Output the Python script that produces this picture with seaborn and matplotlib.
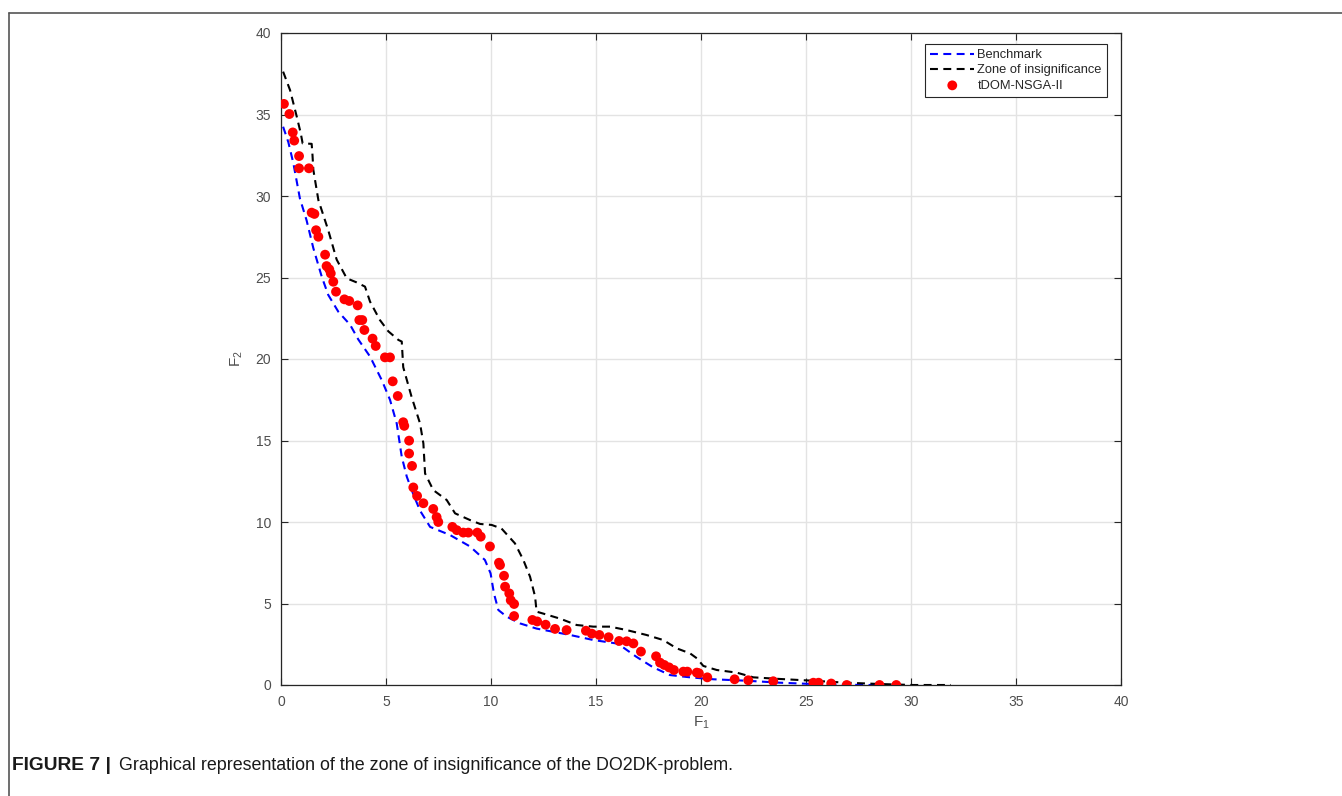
import matplotlib
matplotlib.use("Agg")
import matplotlib.pyplot as plt
from matplotlib.lines import Line2D
import seaborn as sns
import pandas as pd

# ---------------- data ----------------
bench_f1 = [0.10, 0.35, 0.59, 0.90, 1.22, 1.54, 1.94, 2.25, 2.73, 3.29,
            3.68, 4.24, 4.80, 5.19, 5.51, 5.75, 5.99, 6.30, 6.62, 7.10,
            8.05, 9.00, 9.71, 9.98, 10.14, 10.35, 10.75, 11.38, 12.17, 13.76,
            14.87, 15.97, 16.30, 16.90, 17.70, 18.52, 19.48, 20.60, 22.20, 23.76,
            25.35, 27.70, 29.24]
bench_f2 = [34.25, 33.3, 32.0, 29.85, 28.5, 26.8, 25.05, 23.93, 22.9, 22.1,
            21.2, 20.15, 18.7, 17.5, 16.05, 14.0, 12.78, 11.7, 10.7, 9.7,
            9.2, 8.5, 7.67, 6.85, 5.62, 4.6, 4.19, 3.78, 3.46, 3.07,
            2.76, 2.55, 2.3, 1.75, 1.1, 0.61, 0.47, 0.35, 0.26, 0.14,
            0.06, 0.0, 0.0]

zone_f1 = [0.10, 0.43, 0.75, 0.94, 1.03, 1.46, 1.50, 1.54, 1.78, 2.25,
           2.65, 3.13, 3.60, 4.00, 4.24, 4.71, 5.11, 5.59, 5.75, 5.82,
           6.22, 6.62, 6.78, 6.86, 7.25, 7.89, 8.29, 9.00, 9.48, 10.03,
           10.50, 11.14, 11.54, 11.86, 12.10, 12.17, 12.49, 13.29, 14.08, 14.87,
           15.67, 16.46, 17.40, 18.20, 18.84, 19.48, 19.80, 20.11, 20.75, 21.70,
           22.49, 23.76, 25.35, 26.94, 28.52, 30.10, 31.90]
zone_f2 = [37.63, 36.5, 34.87, 33.85, 33.23, 33.2, 32.5, 31.6, 29.75, 27.9,
           26.1, 24.95, 24.7, 24.44, 23.52, 22.39, 21.7, 21.17, 21.07, 19.5,
           17.67, 16.05, 14.82, 12.98, 11.96, 11.35, 10.53, 10.12, 9.88, 9.82,
           9.6, 8.69, 7.67, 6.64, 5.42, 4.5, 4.38, 4.07, 3.68, 3.58,
           3.58, 3.37, 3.07, 2.76, 2.25, 1.94, 1.64, 1.17, 0.92, 0.76,
           0.47, 0.37, 0.26, 0.14, 0.06, 0.0, 0.0]

tdom_f1 = [0.14, 0.40, 0.56, 0.63, 0.86, 0.86, 1.33, 1.46, 1.59, 1.67,
           1.78, 2.10, 2.17, 2.30, 2.37, 2.49, 2.62, 3.02, 3.25, 3.65,
           3.73, 3.87, 3.97, 4.36, 4.51, 4.95, 5.19, 5.32, 5.56, 5.82,
           5.87, 6.10, 6.10, 6.24, 6.30, 6.48, 6.78, 7.25, 7.41, 7.49,
           8.16, 8.37, 8.68, 8.92, 9.35, 9.51, 9.95, 10.38, 10.43, 10.62,
           10.67, 10.87, 10.94, 11.10, 11.10, 11.97, 12.20, 12.60, 13.05, 13.60,
           14.52, 14.80, 15.16, 15.60, 16.10, 16.46, 16.78, 17.14, 17.86, 18.05,
           18.25, 18.48, 18.71, 19.16, 19.35, 19.80, 19.90, 20.30, 21.60, 22.25,
           23.44, 25.35, 25.60, 26.20, 26.94, 28.50, 29.30]
tdom_f2 = [35.65, 35.03, 33.9, 33.4, 32.45, 31.7, 31.7, 28.98, 28.9, 27.9,
           27.5, 26.4, 25.7, 25.5, 25.25, 24.74, 24.13, 23.66, 23.56, 23.29,
           22.39, 22.39, 21.78, 21.25, 20.8, 20.1, 20.1, 18.63, 17.73, 16.12,
           15.9, 14.99, 14.2, 13.44, 12.12, 11.6, 11.15, 10.8, 10.3, 10.0,
           9.7, 9.5, 9.35, 9.35, 9.35, 9.1, 8.5, 7.5, 7.36, 6.7,
           6.03, 5.62, 5.2, 4.97, 4.23, 3.99, 3.9, 3.7, 3.44, 3.37,
           3.33, 3.15, 3.07, 2.93, 2.7, 2.68, 2.55, 2.05, 1.76, 1.37,
           1.23, 1.08, 0.92, 0.82, 0.82, 0.76, 0.72, 0.47, 0.35, 0.29,
           0.23, 0.14, 0.14, 0.09, 0.0, 0.0, 0.0]

x_ticks = [0, 5, 10, 15, 20, 25, 30, 35, 40]
y_ticks = [0, 5, 10, 15, 20, 25, 30, 35, 40]

caption_bold = "FIGURE 7 |"
caption_text = "Graphical representation of the zone of insignificance of the DO2DK-problem."

# ---------------- style ----------------
sns.set_theme(style="white")
plt.rcParams['font.family'] = ['Liberation Sans', 'DejaVu Sans']
plt.rcParams['mathtext.default'] = 'regular'

fig = plt.figure(figsize=(13.42, 7.96), dpi=100)
ax = fig.add_axes([281 / 1342, 1 - 685 / 796, (1121 - 281) / 1342, (685 - 33) / 796])

bench_df = pd.DataFrame({"F1": bench_f1, "F2": bench_f2})
zone_df = pd.DataFrame({"F1": zone_f1, "F2": zone_f2})
tdom_df = pd.DataFrame({"F1": tdom_f1, "F2": tdom_f2})

dash = (0, (3.8, 2.6))
sns.lineplot(data=bench_df, x="F1", y="F2", sort=False, estimator=None, ax=ax,
             color="#0000ff", linewidth=1.5, linestyle=dash, label="Benchmark", zorder=3)
sns.lineplot(data=zone_df, x="F1", y="F2", sort=False, estimator=None, ax=ax,
             color="#000000", linewidth=1.5, linestyle=dash, label="Zone of insignificance", zorder=3)
sns.scatterplot(data=tdom_df, x="F1", y="F2", ax=ax, color="#ff0000", s=50,
                edgecolor="none", label="tDOM-NSGA-II", zorder=4)

ax.set_xlim(0, 40)
ax.set_ylim(0, 40)
ax.set_xticks(x_ticks)
ax.set_yticks(y_ticks)
ax.set_xticklabels([str(t) for t in x_ticks])
ax.set_yticklabels([str(t) for t in y_ticks])
ax.grid(True, color="#e3e3e3", linewidth=1.0)
ax.set_axisbelow(True)
for sp in ax.spines.values():
    sp.set_visible(True)
    sp.set_color("#262626")
    sp.set_linewidth(0.9)
ax.tick_params(axis="both", direction="in", length=5, width=0.8, color="#262626",
               labelsize=10, labelcolor="#4d4d4d", pad=7, top=True, right=True,
               bottom=True, left=True)
ax.set_xlabel("F$_1$", fontsize=11, color="#4d4d4d", labelpad=4)
ax.set_ylabel("F$_2$", fontsize=11, color="#4d4d4d", labelpad=8)

leg = ax.legend(loc="upper right", bbox_to_anchor=(1 - 14 / 840, 1 - 11 / 652), fontsize=9.3,
                frameon=True, fancybox=False, edgecolor="#262626", framealpha=1,
                handlelength=3.4, handletextpad=0.25, borderpad=0.4, labelspacing=0.25,
                borderaxespad=0)
leg.get_frame().set_linewidth(0.8)
for t in leg.get_texts():
    t.set_color("#262626")

# figure frame (top & left border)
fig.add_artist(Line2D([9 / 1342, 1.0], [1 - 13 / 796, 1 - 13 / 796], transform=fig.transFigure,
                      color="#555555", linewidth=1.2))
fig.add_artist(Line2D([9 / 1342, 9 / 1342], [0, 1 - 13 / 796], transform=fig.transFigure,
                      color="#555555", linewidth=1.2))

# caption
t1 = fig.text(12 / 1342, 1 - 766 / 796, caption_bold, fontsize=13.8, fontweight="bold",
              color="#1a1a1a", va="center", ha="left")
fig.canvas.draw()
bb = t1.get_window_extent()
fig.text((bb.x1 + 8) / 1342, 1 - 766 / 796, caption_text, fontsize=12.9,
         color="#1a1a1a", va="center", ha="left")

fig.savefig("out.png", dpi=100)
